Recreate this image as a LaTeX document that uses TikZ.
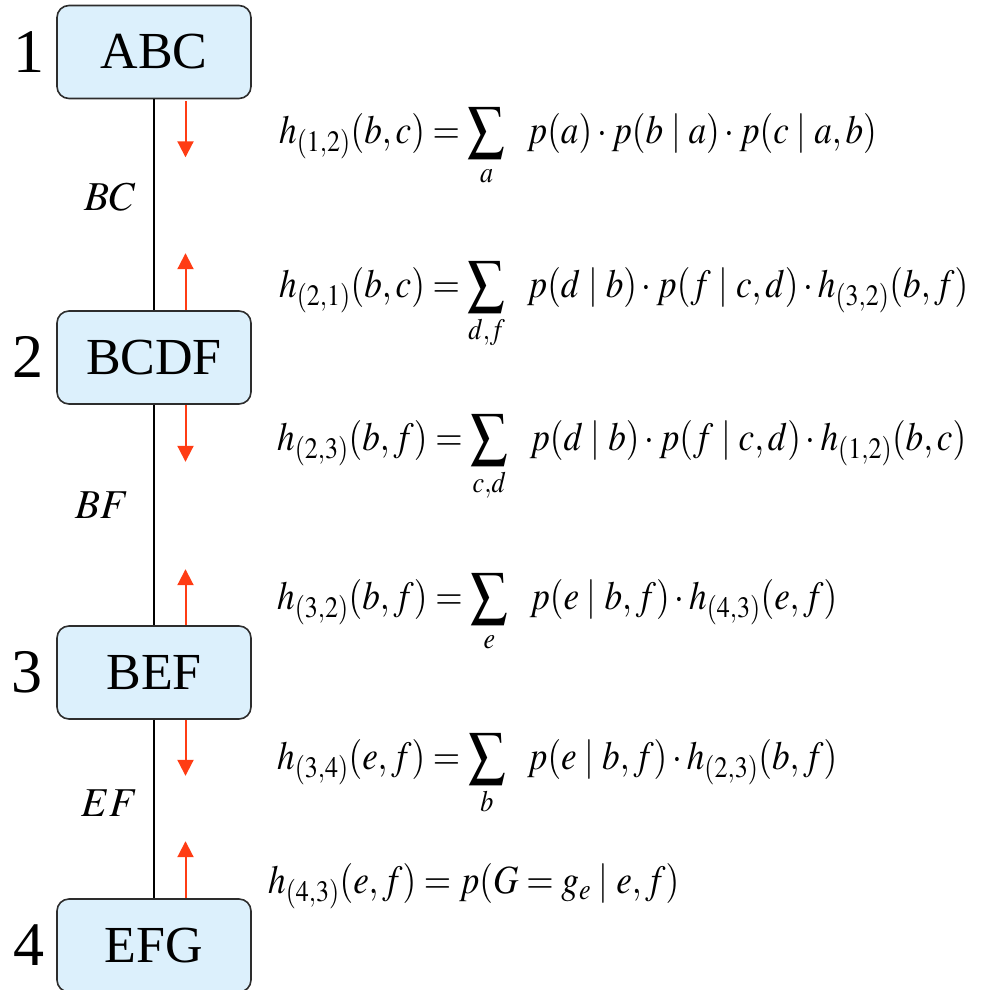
\documentclass[tikz,border=0pt]{standalone}
\usepackage{mathptmx}
\usepackage{graphicx}
\usepackage{fontspec}
\setmainfont{Liberation Serif}
\usetikzlibrary{arrows.meta}
\definecolor{boxblue}{RGB}{220,240,252}
\definecolor{boxline}{RGB}{45,45,45}
\definecolor{msgred}{RGB}{255,60,20}
\newcommand{\bigsumop}[1]{\mathop{\vcenter{\hbox{\scalebox{1.5}{$\sum$}}}}\limits_{#1}\enspace}
\newcommand{\eqtext}[1]{\scalebox{0.88}[1]{$#1$}}
\begin{document}
\begin{tikzpicture}[x=1pt,y=-1pt,
  clique/.style={draw=boxline, line width=1.6pt, fill=boxblue, rounded corners=12pt,
    minimum width=194pt, minimum height=93pt, inner sep=0pt,
    font=\fontsize{52}{52}\selectfont},
  num/.style={inner sep=0pt, font=\fontsize{62}{62}\selectfont},
  seplabel/.style={inner sep=0pt, font=\fontsize{41}{41}\selectfont},
  link/.style={line width=2.5pt, black},
  msg/.style={draw=msgred, line width=2pt, -{Triangle[width=16pt,length=16pt]}},
  eq/.style={anchor=base west, inner sep=0pt, font=\fontsize{40}{40}\selectfont}
]
\useasboundingbox (0,0) rectangle (980,990);
% cliques
\node[clique] (c1) at (154,52) {ABC};
\node[clique] (c2) at (154,357.5) {BCDF};
\node[clique] (c3) at (154,672.5) {BEF};
\node[clique] (c4) at (154,945.5) {EFG};
% numbers
\node[num] (n1) at (29,52) {1};
\node[num] (n2) at (28,357) {2};
\node[num] (n3) at (27,672) {3};
\node[num] (n4) at (29,945) {4};
% links
\draw[link] (c1) -- (c2);
\draw[link] (c2) -- (c3);
\draw[link] (c3) -- (c4);
% separator labels
\node[seplabel] (s12) at (110,197) {$BC$};
\node[seplabel] (s23) at (102,505) {$BF$};
\node[seplabel] (s34) at (110,803) {$EF$};
% message arrows
\coordinate (a12s) at ([xshift=31.5pt,yshift=-2pt]c1.south);
\coordinate (a12t) at ([xshift=31.5pt,yshift=-58pt]c1.south);
\coordinate (a21s) at ([xshift=31.5pt]c2.north);
\coordinate (a21t) at ([xshift=31.5pt,yshift=57pt]c2.north);
\coordinate (a23s) at ([xshift=31.5pt]c2.south);
\coordinate (a23t) at ([xshift=31.5pt,yshift=-57pt]c2.south);
\coordinate (a32s) at ([xshift=31.5pt]c3.north);
\coordinate (a32t) at ([xshift=31.5pt,yshift=56pt]c3.north);
\coordinate (a34s) at ([xshift=31.5pt]c3.south);
\coordinate (a34t) at ([xshift=31.5pt,yshift=-56pt]c3.south);
\coordinate (a43s) at ([xshift=31.5pt]c4.north);
\coordinate (a43t) at ([xshift=31.5pt,yshift=57pt]c4.north);
\draw[msg] (a12s) -- (a12t);
\draw[msg] (a21s) -- (a21t);
\draw[msg] (a23s) -- (a23t);
\draw[msg] (a32s) -- (a32t);
\draw[msg] (a34s) -- (a34t);
\draw[msg] (a43s) -- (a43t);
% equations
\node[eq] (e12) at (279,143) {\eqtext{h_{(1,2)}(b,c) = \bigsumop{a} p(a)\cdot p(b\mid a)\cdot p(c\mid a,b)}};
\node[eq] (e21) at (279,297) {\eqtext{h_{(2,1)}(b,c) = \bigsumop{d,f} p(d\mid b)\cdot p(f\mid c,d)\cdot h_{(3,2)}(b,f)}};
\node[eq] (e23) at (277,450) {\eqtext{h_{(2,3)}(b,f) = \bigsumop{c,d} p(d\mid b)\cdot p(f\mid c,d)\cdot h_{(1,2)}(b,c)}};
\node[eq] (e32) at (277,609) {\eqtext{h_{(3,2)}(b,f) = \bigsumop{e} p(e\mid b,f)\cdot h_{(4,3)}(e,f)}};
\node[eq] (e34) at (277,769) {\eqtext{h_{(3,4)}(e,f) = \bigsumop{b} p(e\mid b,f)\cdot h_{(2,3)}(b,f)}};
\node[eq] (e43) at (268,893) {\eqtext{h_{(4,3)}(e,f) = p(G=g_e\mid e,f)}};
\end{tikzpicture}
\end{document}
